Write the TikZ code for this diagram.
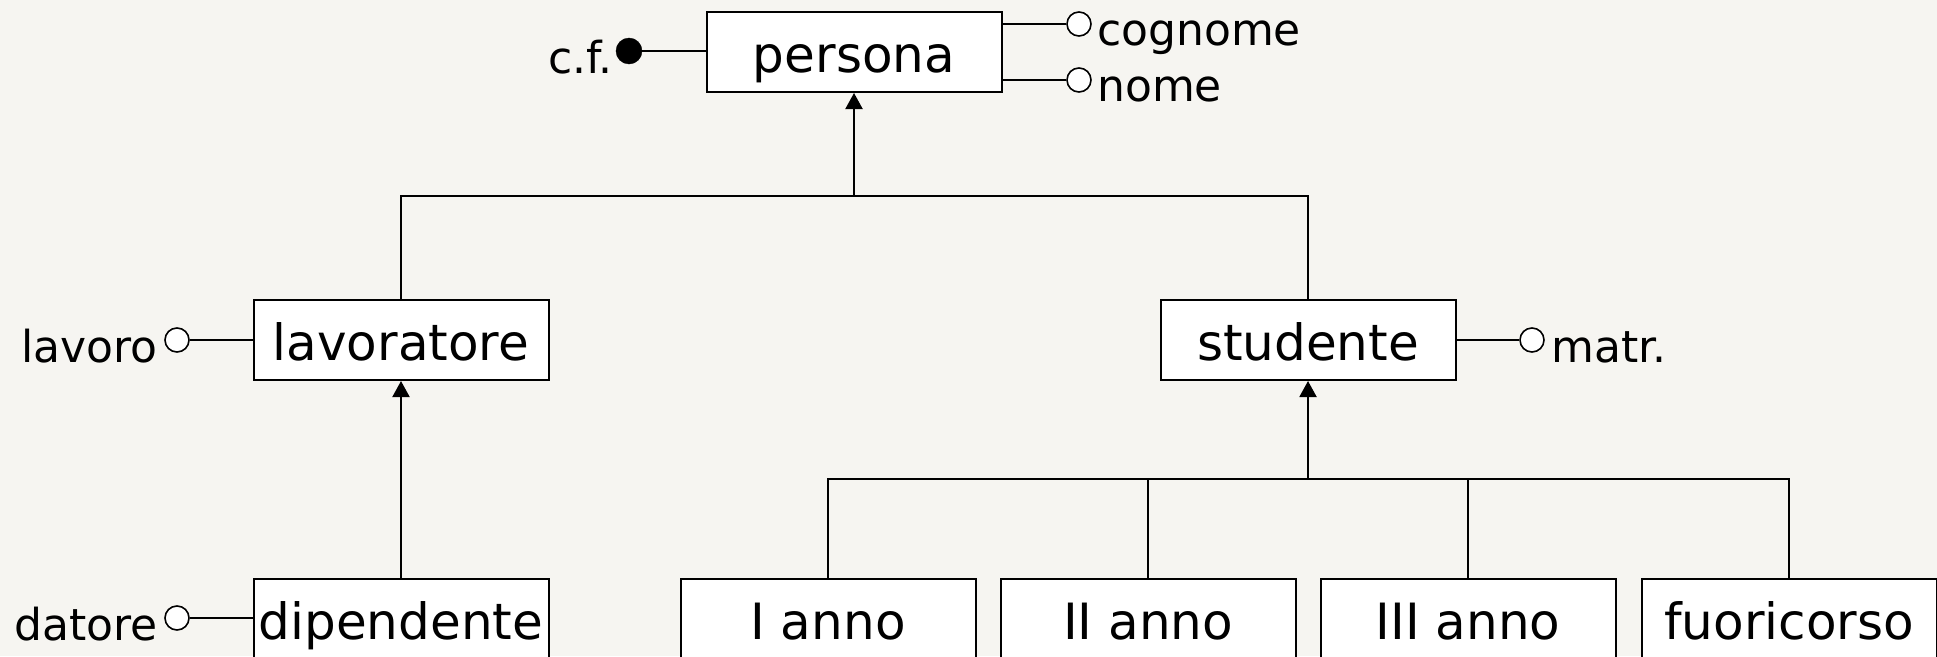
\documentclass[tikz,border=0pt]{standalone}
\usepackage{fontspec}
\setmainfont{DejaVu Sans}
\usetikzlibrary{arrows.meta}
\definecolor{paper}{RGB}{246,245,241}
\begin{document}
\begin{tikzpicture}[x=1pt,y=-1pt,
  entity/.style={draw,line width=2pt,fill=white,minimum width=295pt,minimum height=80pt,
    inner sep=0pt,font=\fontsize{50}{60}\selectfont,text height=45pt,text depth=5pt},
  attr/.style={circle,draw,line width=1.6pt,fill=white,minimum size=24pt,inner sep=0pt},
  keyattr/.style={circle,draw,fill=black,minimum size=26pt,inner sep=0pt},
  lbl/.style={font=\fontsize{44}{52}\selectfont,inner sep=0pt},
  link/.style={line width=2pt},
  isa/.style={line width=2pt,-{Triangle[width=17pt,length=16pt]}}]

% canvas
\fill[paper] (0,0) rectangle (1937,656);
\useasboundingbox (0,0) rectangle (1937,656);
\clip (0,0) rectangle (1937,656);

% entities
\node[entity] (persona)    at (854,52)   {persona};
\node[entity] (lavoratore) at (401,340)  {lavoratore};
\node[entity] (studente)   at (1308,340) {studente};
\node[entity] (dipendente) at (401,619)  {dipendente};
\node[entity] (anno1)      at (828,619)  {I anno};
\node[entity] (anno2)      at (1148,619) {II anno};
\node[entity] (anno3)      at (1468,619) {III anno};
\node[entity] (fuori)      at (1789,619) {fuoricorso};

% attributes
\node[keyattr] (cfC)      at (629,51)  {};
\node[attr]    (cognomeC) at (1079,24) {};
\node[attr]    (nomeC)    at (1079,80) {};
\node[attr]    (lavoroC)  at (177,340) {};
\node[attr]    (datoreC)  at (177,618) {};
\node[attr]    (matrC)    at (1532,340) {};

\node[lbl,anchor=base east] (cfL)      at (613,73)   {c.f.};
\node[lbl,anchor=base west] (cognomeL) at (1097,45)  {cognome};
\node[lbl,anchor=base west] (nomeL)    at (1097,101) {nome};
\node[lbl,anchor=base east] (lavoroL)  at (158,362)  {lavoro};
\node[lbl,anchor=base east] (datoreL)  at (158,640)  {datore};
\node[lbl,anchor=base west] (matrL)    at (1551,362) {matr.};

\draw[link] (cfC.east) -- (cfC -| persona.west);
\draw[link] (persona.east |- cognomeC) -- (cognomeC.west);
\draw[link] (persona.east |- nomeC) -- (nomeC.west);
\draw[link] (lavoroC.east) -- (lavoroC -| lavoratore.west);
\draw[link] (datoreC.east) -- (datoreC -| dipendente.west);
\draw[link] (studente.east |- matrC) -- (matrC.west);

% generalisation persona
\coordinate (h1) at (854,196);
\draw[link] (lavoratore.north) -- (lavoratore.north |- h1) -- (studente.north |- h1) -- (studente.north);
\draw[isa] (h1) -- (persona.south);

% generalisation lavoratore
\draw[isa] (dipendente.north) -- (lavoratore.south);

% generalisation studente
\coordinate (h2) at (1308,479);
\draw[link] (anno1.north) -- (anno1.north |- h2) -- (fuori.north |- h2) -- (fuori.north);
\draw[link] (anno2.north) -- (anno2.north |- h2);
\draw[link] (anno3.north) -- (anno3.north |- h2);
\draw[isa] (h2) -- (studente.south);
\end{tikzpicture}
\end{document}
